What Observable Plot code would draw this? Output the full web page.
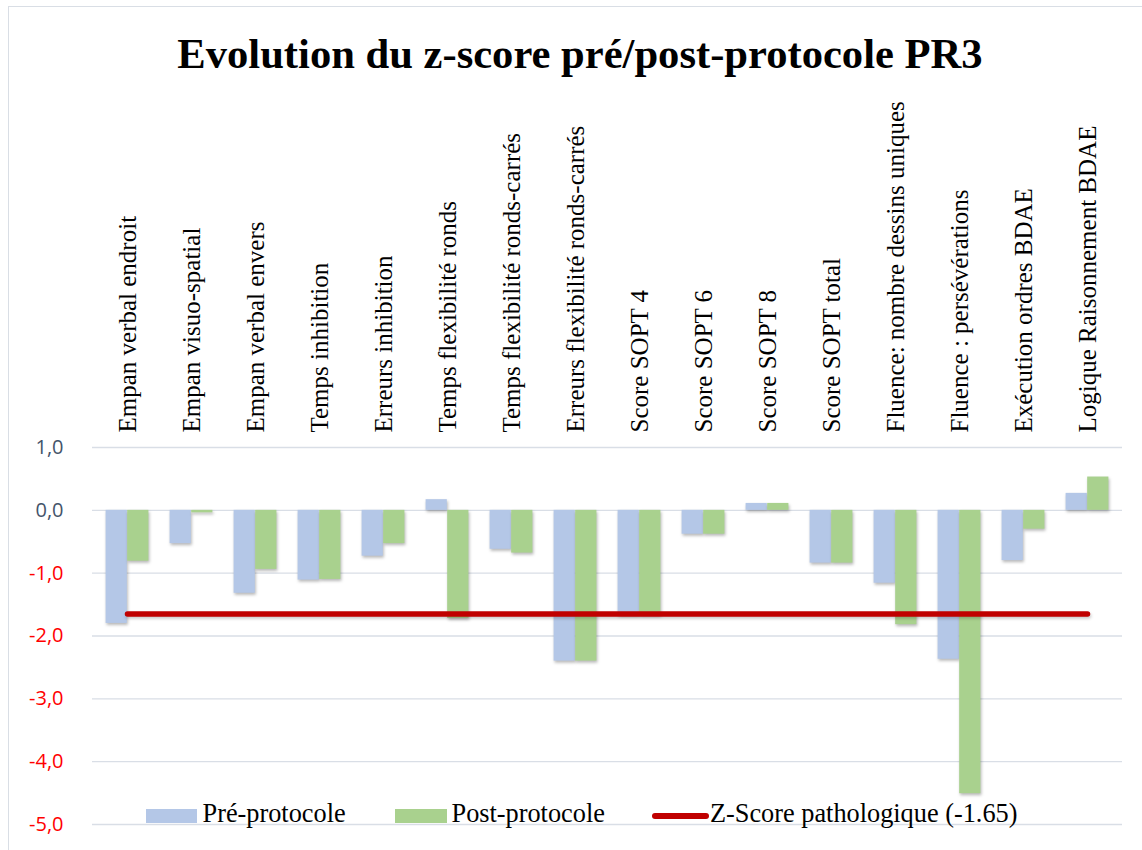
<!DOCTYPE html>
<html>
<head>
<meta charset="utf-8">
<script src="https://cdn.jsdelivr.net/npm/d3@7"></script>
<script src="https://cdn.jsdelivr.net/npm/@observablehq/plot@0.6"></script>
<style>
  html, body { margin: 0; padding: 0; background: #fff; overflow: hidden; }
  #wrap { position: relative; width: 1142px; height: 850px; overflow: hidden; }
  #border { position: absolute; left: 8px; top: 6px; width: 1300px; height: 1000px;
            border-left: 1.5px solid #D9DEE5; border-top: 1.5px solid #D9DEE5; }
  #title { position: absolute; left: 0; top: 32px; width: 1160px; text-align: center;
           font-family: "Liberation Serif", "Times New Roman", serif; font-weight: bold;
           font-size: 42.6px; line-height: 43px; color: #000; white-space: nowrap; }
  #chart { position: absolute; left: 0; top: 0; }
  .lg { position: absolute; font-family: "Liberation Serif", "Times New Roman", serif;
        font-size: 26.3px; line-height: 26px; color: #000; white-space: nowrap; }
  .sw { position: absolute; }
</style>
</head>
<body>
<div id="wrap">
  <div id="border"></div>
  <div id="chart"></div>
  <div id="title">Evolution du z-score pré/post-protocole PR3</div>
  <div class="sw" style="left:145.5px;top:809px;width:51.5px;height:13.5px;background:#B4C7E7"></div>
  <div class="lg" style="left:202.5px;top:801px">Pré-protocole</div>
  <div class="sw" style="left:395px;top:809px;width:52px;height:13.5px;background:#A9D18E"></div>
  <div class="lg" style="left:451.5px;top:801px">Post-protocole</div>
  <div class="sw" style="left:652px;top:813px;width:56.5px;height:5.5px;border-radius:3px;background:#C00000"></div>
  <div class="lg" style="left:710px;top:801px">Z-Score pathologique (-1.65)</div>
</div>
<script>
const categories = [
  "Empan verbal endroit",
  "Empan visuo-spatial",
  "Empan verbal envers",
  "Temps inhibition",
  "Erreurs inhibition",
  "Temps flexibilité ronds",
  "Temps flexibilité ronds-carrés",
  "Erreurs flexibilité ronds-carrés",
  "Score SOPT 4",
  "Score SOPT 6",
  "Score SOPT 8",
  "Score SOPT total",
  "Fluence: nombre dessins uniques",
  "Fluence : persévérations",
  "Exécution ordres BDAE",
  "Logique Raisonnement BDAE"
];
const preProtocole  = [-1.80, -0.53, -1.32, -1.11, -0.73,  0.17, -0.62, -2.40, -1.67, -0.38, 0.11, -0.84, -1.16, -2.37, -0.80, 0.27];
const postProtocole = [-0.81, -0.04, -0.94, -1.10, -0.53, -1.72, -0.68, -2.40, -1.67, -0.38, 0.11, -0.84, -1.82, -4.51, -0.30, 0.53];
const zPathologique = -1.65;
const yTicksPos = [1, 0];
const yTicksNeg = [-1, -2, -3, -4, -5];
const yGrid = [1, 0, -1, -2, -3, -4, -5];

const preRows = categories.map((c, i) => ({cat: c, v: preProtocole[i]}));
const postRows = categories.map((c, i) => ({cat: c, v: postProtocole[i]}));
const lineRows = categories.map(c => ({cat: c, v: zPathologique}));

const fmt = d => d.toFixed(1).replace(".", ",");
const W = 1142, H = 850, mL = 92, mR = 20;
const bw = (W - mL - mR) / categories.length;
const half = bw / 2;
const outer = half - 21.6;
const tickFont = "'Open Sans', sans-serif";

const chart = Plot.plot({
  width: W,
  height: H,
  marginTop: 447,
  marginBottom: 26,
  marginLeft: mL,
  marginRight: mR,
  x: {domain: categories, padding: 0, axis: null},
  y: {domain: [-5, 1]},
  marks: [
    Plot.ruleY(yGrid, {stroke: "#D9DEE6", strokeWidth: 1.3}),
    Plot.barY(preRows, {x: "cat", y: "v", fill: "#B4C7E7", insetLeft: outer, insetRight: half}),
    Plot.barY(postRows, {x: "cat", y: "v", fill: "#A9D18E", insetLeft: half, insetRight: outer}),
    Plot.lineY(lineRows, {x: "cat", y: "v", stroke: "#C00000", strokeWidth: 5.5, strokeLinecap: "round"}),
    Plot.axisY(yTicksPos, {label: null, tickSize: 0, tickPadding: 29, tickFormat: fmt, fill: "#44546A",
      fontSize: 20, fontFamily: tickFont}),
    Plot.axisY(yTicksNeg, {label: null, tickSize: 0, tickPadding: 29, tickFormat: fmt, fill: "#FF0000",
      fontSize: 20, fontFamily: tickFont}),
    Plot.text(categories, {x: d => d, text: d => d, frameAnchor: "top", dy: -15, rotate: -90,
      textAnchor: "start", lineAnchor: "middle", fontSize: 25,
      fontFamily: "'Liberation Serif', 'Times New Roman', serif", fill: "#000"})
  ]
});
document.getElementById("chart").appendChild(chart);
d3.select(chart).selectAll("text")
  .filter(function() { return /^-?\d,0$/.test(this.textContent.trim()); })
  .attr("font-size", 20)
  .attr("font-family", "'Open Sans', sans-serif")
  .style("font-size", "20px")
  .style("font-family", "'Open Sans', sans-serif");
d3.select(chart).selectAll('g[aria-label="bar"]')
  .style("filter", "drop-shadow(1.5px 2.5px 1.5px rgba(0,0,0,0.28))");
d3.select(chart).selectAll('g[aria-label="line"]')
  .style("filter", "drop-shadow(1px 2px 1.5px rgba(0,0,0,0.2))");
</script>
</body>
</html>
